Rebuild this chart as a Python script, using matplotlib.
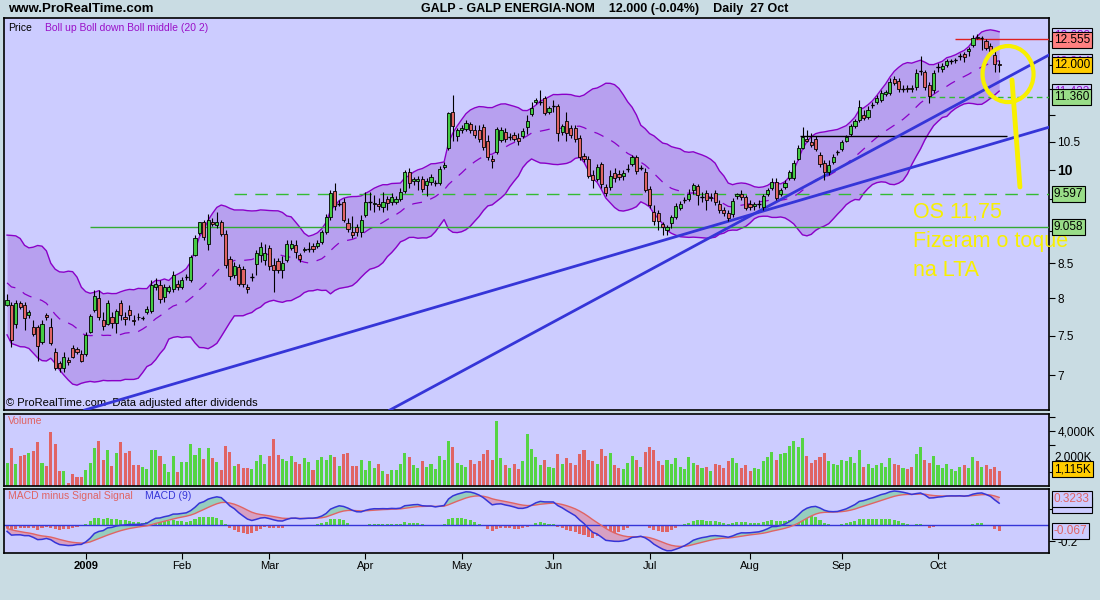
import numpy as np
import pandas as pd
import matplotlib
matplotlib.use('Agg')
import matplotlib.pyplot as plt
from matplotlib.patches import Ellipse
from matplotlib.ticker import NullLocator

plt.rcParams['font.family'] = ['Liberation Sans', 'DejaVu Sans']

# ---- data (GALP daily, Dec 2008 - Oct 2009) ----
# closes before the first visible bar, only used to warm up Bollinger / MACD
prev_close = [8.0, 8.4, 8.9, 8.5, 8.1, 7.8, 8.2, 8.6, 8.3, 7.9, 8.2, 8.6, 8.9, 8.5, 8.2,
              8.9, 8.6, 8.2, 8.5, 8.8, 8.4, 8.0, 7.7, 8.1, 8.5, 8.9, 8.6, 8.3, 7.9, 7.6,
              7.8, 8.2, 8.4, 8.0, 7.9]

opens = [7.91, 7.91, 7.65, 7.93, 7.91, 7.77, 7.61, 7.61, 7.41, 7.77,
         7.61, 7.29, 7.15, 7.09, 7.19, 7.34, 7.33, 7.26, 7.26, 7.55,
         7.84, 8.01, 7.71, 7.65, 7.74, 7.67, 7.93, 7.74, 7.84, 7.71,
         7.75, 7.73, 7.81, 7.82, 8.16, 8.19, 8.02, 8.11, 8.13, 8.20,
         8.16, 8.30, 8.26, 8.63, 8.96, 9.14, 8.80, 9.14, 9.09, 9.14,
         8.95, 8.56, 8.33, 8.45, 8.42, 8.16, 8.30, 8.49, 8.62, 8.55,
         8.73, 8.48, 8.53, 8.40, 8.55, 8.73, 8.78, 8.62, 8.70, 8.72,
         8.76, 8.76, 8.83, 8.98, 9.22, 9.64, 9.43, 9.45, 9.12, 8.98,
         9.06, 8.98, 9.25, 9.45, 9.43, 9.42, 9.38, 9.50, 9.45, 9.45,
         9.50, 9.64, 9.97, 9.81, 9.81, 9.85, 9.74, 9.79, 9.77, 9.77,
         10.05, 10.39, 11.06, 10.61, 10.72, 10.74, 10.83, 10.72, 10.72, 10.78,
         10.51, 10.20, 10.31, 10.53, 10.68, 10.59, 10.63, 10.57, 10.61, 10.78,
         11.02, 11.25, 11.25, 11.33, 11.06, 11.18, 11.18, 10.68, 10.89, 10.76,
         10.76, 10.57, 10.24, 10.19, 9.91, 9.85, 10.11, 9.71, 9.71, 9.95,
         9.93, 9.90, 10.02, 10.11, 10.22, 10.03, 9.97, 9.67, 9.30, 9.28,
         9.10, 9.01, 9.12, 9.22, 9.36, 9.49, 9.50, 9.66, 9.72, 9.54,
         9.61, 9.52, 9.61, 9.43, 9.33, 9.28, 9.26, 9.55, 9.59, 9.54,
         9.42, 9.39, 9.42, 9.38, 9.59, 9.69, 9.79, 9.59, 9.71, 9.86,
         9.86, 10.20, 10.39, 10.55, 10.50, 10.55, 10.26, 10.12, 9.97, 10.14,
         10.31, 10.37, 10.51, 10.65, 10.79, 10.91, 11.00, 10.96, 11.20, 11.25,
         11.29, 11.41, 11.43, 11.71, 11.67, 11.51, 11.53, 11.53, 11.55, 11.88,
         11.86, 11.59, 11.49, 11.96, 11.92, 12.00, 12.09, 12.11, 12.19, 12.23,
         12.30, 12.43, 12.60, 12.58, 12.50, 12.41, 12.21, 12.02]

closes = [7.98, 7.44, 7.93, 7.88, 7.73, 7.81, 7.52, 7.36, 7.65, 7.74,
          7.40, 7.09, 7.09, 7.22, 7.16, 7.23, 7.29, 7.18, 7.51, 7.76,
          8.04, 7.74, 7.62, 7.93, 7.67, 7.82, 7.77, 7.72, 7.77, 7.69,
          7.74, 7.73, 7.85, 8.19, 8.20, 7.99, 8.16, 8.16, 8.33, 8.16,
          8.26, 8.30, 8.59, 8.88, 9.14, 8.90, 9.17, 9.11, 9.14, 8.95,
          8.48, 8.32, 8.46, 8.20, 8.20, 8.13, 8.30, 8.66, 8.74, 8.66,
          8.46, 8.40, 8.40, 8.51, 8.79, 8.79, 8.67, 8.56, 8.71, 8.72,
          8.71, 8.81, 8.98, 9.22, 9.60, 9.39, 9.43, 9.17, 9.03, 8.93,
          8.98, 9.17, 9.45, 9.45, 9.44, 9.39, 9.45, 9.44, 9.54, 9.50,
          9.62, 9.97, 9.78, 9.85, 9.85, 9.67, 9.81, 9.88, 9.77, 10.02,
          10.09, 11.04, 10.79, 10.72, 10.76, 10.85, 10.72, 10.63, 10.55, 10.40,
          10.22, 10.15, 10.74, 10.72, 10.55, 10.59, 10.55, 10.51, 10.70, 10.89,
          11.14, 11.29, 11.25, 11.04, 11.14, 11.18, 10.66, 10.79, 10.66, 10.63,
          10.55, 10.22, 10.19, 9.90, 9.83, 10.05, 9.76, 9.61, 9.90, 9.86,
          9.88, 9.95, 10.02, 10.22, 9.98, 10.03, 9.66, 9.41, 9.15, 9.15,
          9.06, 9.06, 9.22, 9.39, 9.42, 9.49, 9.59, 9.74, 9.57, 9.54,
          9.49, 9.54, 9.45, 9.33, 9.28, 9.20, 9.47, 9.59, 9.54, 9.36,
          9.38, 9.42, 9.42, 9.55, 9.66, 9.79, 9.52, 9.66, 9.78, 9.97,
          10.12, 10.39, 10.59, 10.51, 10.44, 10.37, 10.10, 9.97, 10.09, 10.22,
          10.31, 10.50, 10.59, 10.79, 10.89, 11.16, 10.94, 11.10, 11.20, 11.33,
          11.43, 11.45, 11.65, 11.63, 11.51, 11.51, 11.51, 11.50, 11.83, 11.88,
          11.55, 11.37, 11.83, 11.96, 11.98, 12.09, 12.09, 12.11, 12.19, 12.17,
          12.34, 12.57, 12.58, 12.58, 12.36, 12.30, 12.02, 12.00]

highs = [8.06, 7.95, 7.98, 7.96, 7.95, 7.84, 7.70, 7.64, 7.70, 7.80,
         7.73, 7.34, 7.18, 7.29, 7.22, 7.38, 7.35, 7.31, 7.54, 7.78,
         8.12, 8.12, 7.81, 7.98, 7.81, 7.86, 7.98, 7.81, 7.91, 7.77,
         7.80, 7.76, 7.90, 8.26, 8.29, 8.26, 8.20, 8.19, 8.39, 8.26,
         8.30, 8.34, 8.62, 8.93, 9.14, 9.17, 9.27, 9.20, 9.30, 9.17,
         9.01, 8.61, 8.52, 8.49, 8.46, 8.20, 8.36, 8.70, 8.82, 8.80,
         8.78, 8.58, 8.58, 8.61, 8.85, 8.85, 8.85, 8.65, 8.75, 8.82,
         8.81, 8.85, 9.01, 9.27, 9.66, 9.78, 9.49, 9.52, 9.20, 9.23,
         9.11, 9.25, 9.62, 9.62, 9.57, 9.52, 9.62, 9.55, 9.60, 9.55,
         9.69, 10.00, 10.04, 9.88, 9.90, 9.90, 9.86, 9.93, 9.83, 10.07,
         10.14, 11.06, 11.39, 10.76, 10.81, 10.91, 10.87, 10.81, 10.81, 10.83,
         10.63, 10.26, 10.78, 10.78, 10.76, 10.66, 10.68, 10.66, 10.76, 11.00,
         11.25, 11.33, 11.49, 11.37, 11.18, 11.29, 11.22, 10.83, 11.06, 10.81,
         10.81, 10.63, 10.29, 10.24, 10.00, 10.10, 10.14, 9.76, 10.00, 10.04,
         10.00, 10.00, 10.10, 10.26, 10.26, 10.09, 10.04, 9.72, 9.41, 9.33,
         9.14, 9.09, 9.25, 9.44, 9.47, 9.54, 9.67, 9.78, 9.76, 9.62,
         9.66, 9.60, 9.66, 9.49, 9.38, 9.33, 9.52, 9.60, 9.66, 9.57,
         9.49, 9.46, 9.49, 9.59, 9.69, 9.86, 9.86, 9.69, 9.83, 10.00,
         10.17, 10.44, 10.78, 10.72, 10.66, 10.61, 10.31, 10.17, 10.17, 10.28,
         10.35, 10.53, 10.63, 10.83, 10.93, 11.29, 11.10, 11.18, 11.25, 11.39,
         11.49, 11.49, 11.73, 11.77, 11.73, 11.59, 11.59, 11.59, 11.92, 12.19,
         11.90, 11.65, 11.90, 12.04, 12.04, 12.13, 12.13, 12.15, 12.25, 12.28,
         12.39, 12.64, 12.66, 12.62, 12.55, 12.46, 12.30, 12.11]

lows = [7.90, 7.35, 7.60, 7.85, 7.57, 7.73, 7.49, 7.18, 7.39, 7.70,
        7.38, 7.06, 7.04, 7.04, 7.13, 7.21, 7.26, 7.16, 7.24, 7.53,
        7.81, 7.70, 7.57, 7.64, 7.60, 7.53, 7.70, 7.64, 7.70, 7.64,
        7.70, 7.70, 7.78, 7.80, 8.12, 7.94, 7.95, 8.08, 8.09, 8.12,
        8.13, 8.26, 8.23, 8.61, 8.93, 8.85, 8.70, 9.07, 9.04, 8.91,
        8.43, 8.26, 8.29, 8.18, 8.16, 8.08, 8.24, 8.33, 8.52, 8.48,
        8.40, 8.09, 8.36, 8.29, 8.52, 8.70, 8.58, 8.52, 8.67, 8.67,
        8.67, 8.73, 8.80, 8.95, 9.17, 9.33, 9.39, 9.14, 8.98, 8.88,
        8.91, 8.90, 9.22, 9.33, 9.30, 9.33, 9.30, 9.33, 9.41, 9.42,
        9.47, 9.60, 9.69, 9.74, 9.66, 9.62, 9.55, 9.74, 9.72, 9.74,
        10.02, 10.35, 10.51, 10.51, 10.66, 10.70, 10.66, 10.57, 10.50, 10.35,
        10.17, 10.04, 10.28, 10.50, 10.50, 10.53, 10.51, 10.44, 10.57, 10.65,
        10.98, 11.22, 11.20, 11.00, 11.02, 11.06, 10.51, 10.63, 10.51, 10.57,
        10.50, 10.17, 10.14, 9.86, 9.69, 9.81, 9.69, 9.55, 9.66, 9.79,
        9.83, 9.83, 9.97, 10.07, 9.93, 10.00, 9.62, 9.36, 9.09, 9.01,
        8.93, 8.93, 9.04, 9.19, 9.33, 9.44, 9.47, 9.59, 9.41, 9.46,
        9.33, 9.47, 9.41, 9.28, 9.23, 9.15, 9.22, 9.50, 9.49, 9.33,
        9.33, 9.33, 9.36, 9.33, 9.55, 9.66, 9.49, 9.55, 9.67, 9.83,
        9.83, 10.17, 10.37, 10.49, 10.41, 10.33, 10.05, 9.83, 9.91, 10.10,
        10.26, 10.33, 10.49, 10.61, 10.76, 10.87, 10.91, 10.93, 11.14, 11.22,
        11.25, 11.37, 11.39, 11.59, 11.45, 11.45, 11.45, 11.45, 11.49, 11.79,
        11.49, 11.24, 11.43, 11.86, 11.86, 11.96, 12.02, 12.04, 12.11, 12.07,
        12.19, 12.39, 12.55, 12.32, 12.32, 12.21, 11.86, 11.86]

# volume in thousands of shares
volume = [1680, 2770, 1610, 2190, 2260, 2410, 2560, 3210, 1680, 1460,
          3940, 3070, 1100, 1100, 220, 880, 660, 660, 1170, 1680,
          2770, 3290, 1900, 2630, 1460, 2410, 3210, 2410, 2560, 1530,
          1530, 1390, 1240, 2630, 2630, 2190, 1610, 1020, 2190, 1020,
          1750, 1750, 3070, 2260, 2770, 1970, 2770, 2040, 1750, 1170,
          2920, 2480, 1460, 1610, 1310, 1310, 1240, 1830, 2260, 1610,
          2190, 3430, 2260, 1970, 1830, 2190, 1750, 1610, 2040, 1750,
          1170, 1900, 2120, 1900, 2260, 2120, 1460, 2340, 2410, 1460,
          1460, 1900, 1170, 1830, 1310, 1610, 1100, 880, 1170, 1170,
          1600, 2400, 2100, 1500, 1300, 1800, 1400, 1600, 1200, 2200,
          1900, 3300, 2800, 1700, 1500, 1400, 1900, 1600, 1800, 2300,
          2600, 1900, 4700, 2000, 1500, 1300, 1600, 1200, 1800, 3800,
          2700, 2100, 1500, 1900, 1400, 1300, 2300, 1600, 2000, 1700,
          1500, 2300, 2600, 1900, 1800, 1600, 2700, 2200, 2400, 1500,
          1300, 1200, 1700, 2200, 1900, 1400, 2500, 2800, 2600, 1800,
          1500, 1900, 1600, 2000, 1400, 1200, 2100, 1700, 1500, 1300,
          1400, 1100, 1600, 1500, 1300, 1800, 2000, 1700, 1300, 1500,
          1100, 1300, 1200, 1800, 2100, 2500, 1900, 2300, 2400, 2900,
          3300, 2800, 3500, 2200, 1700, 1900, 2100, 2400, 1800, 1600,
          1500, 1900, 1800, 2100, 1700, 2600, 1400, 1600, 1300, 1500,
          1700, 1400, 2000, 1600, 1500, 1300, 1200, 1400, 2300, 2800,
          1900, 1700, 2200, 1500, 1300, 1600, 1200, 1100, 1400, 1500,
          1300, 2100, 1800, 1400, 1500, 1200, 1400, 1115]

month_labels = ['2009', 'Feb', 'Mar', 'Apr', 'May', 'Jun', 'Jul', 'Aug', 'Sep', 'Oct']

# ---- indicators ----
n = len(closes)
dates = pd.bdate_range('2008-12-08', periods=n)
x = np.arange(n)
o = np.array(opens); c = np.array(closes); h = np.array(highs); l = np.array(lows)
vol = np.array(volume)

allc = pd.Series(prev_close + closes)
mid = allc.rolling(20).mean()
sd = allc.rolling(20).std(ddof=0)
bup = (mid + 2 * sd).values[-n:]
bdn = (mid - 2 * sd).values[-n:]
bmid = mid.values[-n:]

ema12 = allc.ewm(span=12, adjust=False).mean()
ema26 = allc.ewm(span=26, adjust=False).mean()
macd = (ema12 - ema26)
sig = macd.ewm(span=9, adjust=False).mean()
macd = macd.values[-n:]
sig = sig.values[-n:]
hist = macd - sig

# month ticks = first bar of each month from January
month_pos = [i for i in range(1, n) if dates[i].month != dates[i - 1].month]

# ---- colours ----
BG = '#c9dce3'
PANEL = '#ccccff'
GREEN = '#44cc44'
RED = '#e06464'
PURPLE = '#8a00c8'
BAND = '#b7a0ef'
BLUE = '#3535d8'
YELLOW = '#f8f000'

fig = plt.figure(figsize=(11, 6), dpi=100, facecolor=BG)

def px_axes(x0, y0, x1, y1):
    return fig.add_axes([x0 / 1100, 1 - y1 / 600, (x1 - x0) / 1100, (y1 - y0) / 600])

ax = px_axes(4, 18, 1049, 410)
axv = px_axes(4, 414, 1049, 486)
axm = px_axes(4, 489, 1049, 553)

xmin, xmax = -0.7, 238.4
for a in (ax, axv, axm):
    a.set_facecolor(PANEL)
    a.set_xlim(xmin, xmax)
    for s in a.spines.values():
        s.set_linewidth(1.2)
        s.set_color('black')
    a.yaxis.tick_right()
    a.tick_params(axis='y', direction='out', length=4, labelsize=8.5, pad=2)
    a.set_xticks(month_pos)
    a.tick_params(axis='x', direction='out', length=0, labelbottom=False)

# ---- price panel ----
ax.set_yscale('log')
ax.set_ylim(6.59, 13.02)
ax.fill_between(x, bdn, bup, color=BAND, lw=0, zorder=1)
ax.plot(x, bup, color=PURPLE, lw=1, zorder=2)
ax.plot(x, bdn, color=PURPLE, lw=1, zorder=2)
ax.plot(x, bmid, color=PURPLE, lw=0.9, ls=(0, (8, 7)), zorder=2)

# horizontal levels drawn on the chart
ax.hlines(9.058, 19, xmax, color='#33aa33', lw=1, zorder=3)
ax.hlines(9.597, 52, xmax, color='#33bb33', lw=1, ls=(0, (9, 6)), zorder=3)
ax.hlines(11.36, 206.6, xmax, color='#33bb33', lw=1, ls=(0, (4, 3)), zorder=3)
ax.hlines(10.61, 181.5, 228.8, color='black', lw=1, zorder=3)
ax.hlines(12.555, 217, xmax, color='#dd2020', lw=1, zorder=3)

# trend lines (LTA)
ax.plot([17.8, 238.4], [6.59, 10.77], color=BLUE, lw=2, zorder=4)
ax.plot([87.6, 238.4], [6.59, 12.21], color=BLUE, lw=2, zorder=4)

# candles
up = c >= o
ax.vlines(x, l, h, color='black', lw=0.8, zorder=5)
bot = np.minimum(o, c)
top = np.maximum(o, c)
ax.bar(x, top - bot, bottom=bot, width=0.72, color=np.where(up, GREEN, RED),
       edgecolor='black', linewidth=0.6, zorder=6)
doji = np.isclose(o, c)
ax.hlines(c[doji], x[doji] - 0.4, x[doji] + 0.4, color='black', lw=1, zorder=6)

ax.set_ylim(6.59, 13.02)
ax.yaxis.set_minor_locator(NullLocator())
pt = [7, 7.5, 8, 8.5, 9, 9.5, 10, 10.5, 11, 11.5, 12, 12.5]
ax.set_yticks(pt)
ax.set_yticklabels(['7', '7.5', '8', '8.5', '', '', '10', '10.5', '', '', '', ''])
for t in ax.get_yticklabels():
    if t.get_text() == '10':
        t.set_fontweight('bold')
        t.set_fontsize(10)

# yellow hand annotation
ax.add_patch(Ellipse((0.9608, 0.857), 0.0488, 0.143, transform=ax.transAxes,
                     fill=False, ec=YELLOW, lw=3, zorder=8))
ax.plot([0.9646, 0.9722], [0.842, 0.569], color=YELLOW, lw=3.5,
        transform=ax.transAxes, zorder=8, solid_capstyle='round')
for i, s in enumerate(['OS 11,75', 'Fizeram o toque', 'na LTA']):
    ax.text(0.8699, 0.505 - i * 0.074, s, color=YELLOW, fontsize=15.5,
            transform=ax.transAxes, va='center', ha='left', zorder=8)

ax.text(0.004, 0.988, 'Price', fontsize=7.5, transform=ax.transAxes, va='top')
ax.text(0.039, 0.988, 'Boll up Boll down Boll middle (20 2)', fontsize=7.5,
        color='#9a10c8', transform=ax.transAxes, va='top')
ax.text(0.002, 0.004, '\u00a9 ProRealTime.com  Data adjusted after dividends',
        fontsize=8, transform=ax.transAxes, va='bottom')

# ---- volume panel ----
axv.bar(x, vol, width=0.7, color=np.where(up, '#55d444', RED), lw=0)
axv.set_ylim(0, 5230)
axv.set_yticks([1000, 3000, 4000, 5000])
axv.set_yticklabels(['', '', '4,000K', ''])
axv.text(0.004, 0.97, 'Volume', color=RED, fontsize=7.5, transform=axv.transAxes, va='top')

# ---- MACD panel ----
axm.axhline(0, color=BLUE, lw=1)
axm.bar(x, hist, width=0.7, color=np.where(hist >= 0, '#55d444', RED), lw=0)
axm.fill_between(x, macd, sig, where=macd >= sig, interpolate=True, color='#96cdbe', lw=0)
axm.fill_between(x, macd, sig, where=macd < sig, interpolate=True, color='#d7a0c3', lw=0)
axm.plot(x, sig, color=RED, lw=1)
axm.plot(x, macd, color=BLUE, lw=1.1)
axm.set_ylim(-0.35, 0.45)
axm.set_yticks([-0.2, 0.2])
axm.set_yticklabels(['-0.2', ''])
axm.text(0.004, 0.97, 'MACD minus Signal Signal', color=RED, fontsize=7.5,
         transform=axm.transAxes, va='top')
axm.text(0.135, 0.97, 'MACD (9)', color=BLUE, fontsize=7.5, transform=axm.transAxes, va='top')
axm.tick_params(axis='x', length=4, labelbottom=True, labelsize=8, pad=2)
axm.set_xticklabels(month_labels[:len(month_pos)])
axm.get_xticklabels()[0].set_fontweight('bold')

# ---- right-hand value boxes (later ones cover earlier ones) ----
def vbox(y, s, fc, tc='black'):
    fig.text(1054 / 1100, 1 - y / 600, s, fontsize=8.5, color=tc, va='center', ha='left',
             bbox=dict(boxstyle='square,pad=0.15', fc=fc, ec='black', lw=0.8), zorder=10)

vbox(36, '12.628', PANEL, '#9a10c8')
vbox(40, '12.555', '#ff8080')
vbox(62, '12.214', PANEL, '#9a10c8')
vbox(65, '12.000', '#ffcc00')
vbox(92, '11.433', PANEL, '#9a10c8')
vbox(97, '11.360', '#99dd88')
vbox(194, '9.597', '#99dd88')
vbox(227, '9.058', '#99dd88')
fig.text(1054 / 1100, 1 - 457 / 600, '2,000K', fontsize=8.5, va='center', ha='left')
vbox(469, '1,115K', '#ffcc00')
vbox(505, '0.2565', PANEL, BLUE)
vbox(499, '0.3233', PANEL, RED)
vbox(531, '-0.067', PANEL, RED)

# ---- header ----
fig.text(8 / 1100, 1 - 9 / 600, 'www.ProRealTime.com', fontsize=9.5, fontweight='bold', va='center')
fig.text(605 / 1100, 1 - 9 / 600,
         'GALP - GALP ENERGIA-NOM    12.000 (-0.04%)    Daily  27 Oct',
         fontsize=9, fontweight='bold', va='center', ha='center')

fig.savefig('out.png', dpi=100, facecolor=BG)
